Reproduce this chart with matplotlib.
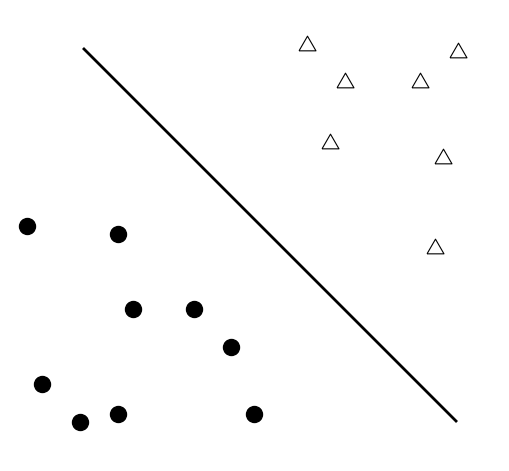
import matplotlib
matplotlib.use("Agg")
import matplotlib.pyplot as plt

# class A (filled dots) in pixel units
dots_x = [27, 118, 133, 194, 231, 42, 80, 118, 254]
dots_y = [226, 234, 309, 309, 347, 384, 422, 414, 414]

# class B (open triangles)
tri_x = [307, 458, 345, 420, 330, 443, 435]
tri_y = [43, 50, 80, 80, 141, 156, 246]

# separating line end points
line_x = [83, 457]
line_y = [48, 422]

tri_marker = [(-1, -0.866), (1, -0.866), (0, 0.866), (-1, -0.866)]


def main():
    fig = plt.figure(figsize=(5.10, 4.71), dpi=100)
    ax = fig.add_axes([0, 0, 1, 1])
    ax.set_xlim(0, 510)
    ax.set_ylim(471, 0)
    ax.axis('off')

    ax.plot(line_x, line_y, color='black', lw=2.0, solid_capstyle='butt')
    ax.plot(dots_x, dots_y, 'o', color='black', markersize=11.5, linestyle='none')
    ax.plot(tri_x, tri_y, marker=tri_marker, linestyle='none', markersize=12.2,
            markerfacecolor='white', markeredgecolor='black', markeredgewidth=0.8)

    fig.savefig('out.png', dpi=100)


if __name__ == '__main__':
    main()
